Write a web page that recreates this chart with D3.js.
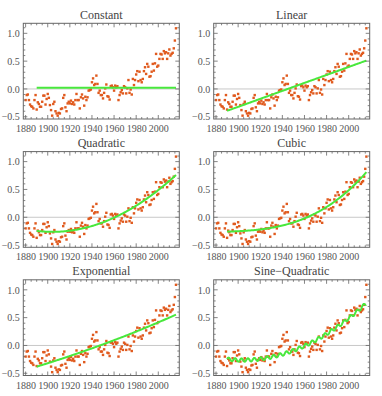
<!DOCTYPE html>
<html><head><meta charset="utf-8">
<script src="https://cdn.jsdelivr.net/npm/d3@7"></script>
<style>
html,body{margin:0;padding:0;background:#fff;}
svg{display:block;}
text{font-family:"Liberation Serif","DejaVu Serif",serif;}
</style></head>
<body><svg id="c" width="382" height="396"></svg>
<script>
// ---- data ----
const startYear = 1880;
const anomalies = [
 -0.20,-0.11,-0.10,-0.20,-0.28,-0.31,-0.32,-0.35,-0.20,-0.11,
 -0.37,-0.24,-0.27,-0.32,-0.32,-0.23,-0.12,-0.12,-0.28,-0.18,
 -0.09,-0.16,-0.29,-0.38,-0.48,-0.27,-0.23,-0.40,-0.44,-0.48,
 -0.43,-0.44,-0.36,-0.35,-0.16,-0.11,-0.33,-0.40,-0.26,-0.23,
 -0.26,-0.21,-0.27,-0.24,-0.28,-0.20,-0.09,-0.20,-0.20,-0.35,
 -0.15,-0.10,-0.17,-0.30,-0.14,-0.20,-0.15,-0.03,-0.02,-0.01,
  0.12, 0.19, 0.07, 0.09, 0.24, 0.09,-0.07,-0.03,-0.11,-0.11,
 -0.17,-0.07, 0.01, 0.08,-0.13,-0.14,-0.19, 0.05, 0.06, 0.03,
 -0.03, 0.06, 0.03, 0.05,-0.20,-0.11,-0.06,-0.02,-0.08, 0.05,
  0.03,-0.08, 0.01, 0.16,-0.07,-0.01,-0.10, 0.18, 0.07, 0.16,
  0.26, 0.32, 0.14, 0.31, 0.16, 0.12, 0.18, 0.32, 0.39, 0.27,
  0.45, 0.40, 0.22, 0.23, 0.31, 0.45, 0.33, 0.46, 0.63, 0.40,
  0.42, 0.54, 0.63, 0.62, 0.54, 0.68, 0.64, 0.66, 0.54, 0.64,
  0.71, 0.60, 0.63, 0.65, 0.73, 0.87, 1.09
];
const years = anomalies.map((_, i) => startYear + i);
const titles = ["Constant", "Linear", "Quadratic", "Cubic", "Exponential", "Sine\u2212Quadratic"];
const models = ["constant", "linear", "quadratic", "cubic", "exponential", "sinequadratic"];
const xTickValues = [1880, 1900, 1920, 1940, 1960, 1980, 2000];
const yTickValues = [-0.5, 0.0, 0.5, 1.0];
const yTickLabels = ["\u22120.5", "0.0", "0.5", "1.0"];
const fitStartYear = 1890;
const expRate = [0.003];          // exponential rate read from curvature
const sineParams = [5.8, 0.03];   // period (yr), amplitude read from wiggles

// ---- least squares helpers ----
function solve(A, b) {
  const n = b.length, M = A.map((r, i) => r.concat([b[i]]));
  for (let c = 0; c < n; c++) {
    let p = c; for (let r = c + 1; r < n; r++) if (Math.abs(M[r][c]) > Math.abs(M[p][c])) p = r;
    [M[c], M[p]] = [M[p], M[c]];
    for (let r = 0; r < n; r++) if (r !== c) {
      const f = M[r][c] / M[c][c];
      for (let k = c; k <= n; k++) M[r][k] -= f * M[c][k];
    }
  }
  return M.map((r, i) => r[n] / r[i]);
}
function lsq(basis) {
  const m = basis(years[0]).length;
  const A = Array.from({length: m}, () => new Array(m).fill(0));
  const b = new Array(m).fill(0);
  years.forEach((yr, i) => {
    const f = basis(yr);
    for (let r = 0; r < m; r++) { b[r] += f[r] * anomalies[i]; for (let c = 0; c < m; c++) A[r][c] += f[r] * f[c]; }
  });
  const coef = solve(A, b);
  return yr => basis(yr).reduce((s, v, k) => s + v * coef[k], 0);
}
const tt = yr => (yr - 1950) / 50;
const fits = {
  constant: lsq(yr => [1]),
  linear: lsq(yr => [1, tt(yr)]),
  quadratic: lsq(yr => [1, tt(yr), tt(yr) ** 2]),
  cubic: lsq(yr => [1, tt(yr), tt(yr) ** 2, tt(yr) ** 3]),
  exponential: lsq(yr => [1, Math.exp(expRate[0] * (yr - 1950))]),
};
const quadBase = fits.quadratic;
fits.sinequadratic = yr => quadBase(yr) + sineParams[1] * Math.sin(2 * Math.PI * (yr - 1890) / sineParams[0]);

// ---- layout ----
const svg = d3.select("#c");
const colOff = [23.3, 213.7], rowOff = [23.3, 151.6, 279.8];
const fw = 156, fh = 95.7;
const x = d3.scaleLinear().domain([1877.9, 2019.0]).range([0, fw]);
const y = d3.scaleLinear().domain([-0.54, 1.18]).range([fh, 0]);
const frameColor = "#666", textColor = "#555";
const fitYears = years.filter(yr => yr >= fitStartYear);
const fineYears = [];
for (let i = 0; i < fitYears.length - 1; i++) for (let k = 0; k < 8; k++) fineYears.push(fitYears[i] + k / 8);
fineYears.push(fitYears[fitYears.length - 1]);

models.forEach((m, idx) => {
  const g = svg.append("g").attr("transform", `translate(${colOff[idx % 2]},${rowOff[Math.floor(idx / 2)]})`);
  // zero axis line
  g.append("line").attr("x1", 0).attr("x2", fw).attr("y1", y(0)).attr("y2", y(0))
    .attr("stroke", "#c8c8c8").attr("stroke-width", 1);
  // points
  g.selectAll("rect.pt").data(years).join("rect").attr("class", "pt")
    .attr("x", d => x(d) - 1.2).attr("y", (d, i) => y(anomalies[i]) - 1.2)
    .attr("width", 2.4).attr("height", 2.4).attr("fill", "#e05a1e");
  // fit
  const f = fits[m];
  g.append("path").datum(m === "sinequadratic" ? fineYears : fitYears)
    .attr("d", d3.line().x(d => x(d)).y(d => y(f(d))))
    .attr("fill", "none").attr("stroke", "#48e83c").attr("stroke-width", 2);
  // axes
  const bottom = d3.axisBottom(x).tickValues(xTickValues).tickFormat(d3.format("d")).tickSize(0).tickPadding(6);
  const gb = g.append("g").attr("transform", `translate(0,${fh})`).call(bottom);
  gb.select(".domain").remove();
  gb.selectAll("text").attr("fill", textColor).attr("font-size", 10).attr("font-family", "Liberation Serif");
  const left = d3.axisLeft(y).tickValues(yTickValues).tickFormat((d, i) => yTickLabels[i]).tickSize(0).tickPadding(3.5);
  const gl = g.append("g").call(left);
  gl.select(".domain").remove();
  gl.selectAll("text").attr("fill", textColor).attr("font-size", 10).attr("font-family", "Liberation Serif");
  // frame ticks
  const majX = xTickValues, minX = d3.range(1880, 2019, 5).filter(v => v % 20 !== 0);
  const majY = yTickValues, minY = d3.range(-5, 12).map(v => v / 10).filter(v => Math.abs(v * 2 - Math.round(v * 2)) > 1e-6);
  const tk = g.append("g").attr("stroke", frameColor).attr("stroke-width", 0.8);
  [[majX, 4], [minX, 2]].forEach(([vals, len]) => vals.forEach(v => {
    tk.append("line").attr("x1", x(v)).attr("x2", x(v)).attr("y1", fh).attr("y2", fh - len);
    tk.append("line").attr("x1", x(v)).attr("x2", x(v)).attr("y1", 0).attr("y2", len);
  }));
  [[majY, 4], [minY, 2]].forEach(([vals, len]) => vals.forEach(v => {
    tk.append("line").attr("y1", y(v)).attr("y2", y(v)).attr("x1", 0).attr("x2", len);
    tk.append("line").attr("y1", y(v)).attr("y2", y(v)).attr("x1", fw).attr("x2", fw - len);
  }));
  g.append("rect").attr("x", 0).attr("y", 0).attr("width", fw).attr("height", fh)
    .attr("fill", "none").attr("stroke", frameColor).attr("stroke-width", 1);
  // title
  g.append("text").attr("x", fw / 2).attr("y", -4.5).attr("text-anchor", "middle")
    .attr("font-size", 12).attr("fill", "#444").text(titles[idx]);
});
</script></body></html>
